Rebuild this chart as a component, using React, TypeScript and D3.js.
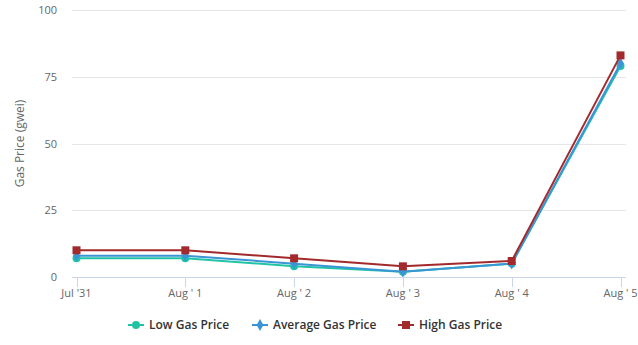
import * as d3 from "d3";
import React, { useEffect, useRef } from "react";

const days = ["Jul '31", "Aug ' 1", "Aug ' 2", "Aug ' 3", "Aug ' 4", "Aug ' 5"];
const lowPrice = [7, 7, 4, 2, 5, 79];
const averagePrice = [8, 8, 5, 2, 5, 80];
const highPrice = [10, 10, 7, 4, 6, 83];
const yTicks = [0, 25, 50, 75, 100];

const series = [
  { name: "Low Gas Price", data: lowPrice, color: "#20c4a4", symbol: d3.symbolCircle, size: 50 },
  { name: "Average Gas Price", data: averagePrice, color: "#3a95d6", symbol: d3.symbolDiamond, size: 40 },
  { name: "High Gas Price", data: highPrice, color: "#a32a2c", symbol: d3.symbolSquare, size: 64 },
];

const W = 638;
const H = 345;

export default function App() {
  const svgRef = useRef<SVGSVGElement>(null);

  useEffect(() => {
    const svg = d3.select(svgRef.current);
    svg.selectAll("*").remove();

    const x = d3.scaleLinear().domain([0, days.length - 1]).range([76.5, 620.5]);
    const y = d3.scaleLinear().domain([0, 100]).range([277, 10]);
    const font = "'Open Sans', sans-serif";

    // horizontal grid
    svg
      .append("g")
      .selectAll("line")
      .data(yTicks.slice(1))
      .join("line")
      .attr("x1", 72)
      .attr("x2", 626)
      .attr("y1", (d) => Math.round(y(d)) + 0.5)
      .attr("y2", (d) => Math.round(y(d)) + 0.5)
      .attr("stroke", "#e6e6e6");

    // y labels
    svg
      .append("g")
      .selectAll("text")
      .data(yTicks)
      .join("text")
      .attr("x", 57)
      .attr("y", (d) => y(d) + 4)
      .attr("text-anchor", "end")
      .attr("font-family", font)
      .attr("font-size", 11)
      .attr("fill", "#666")
      .text((d) => d);

    svg
      .append("text")
      .attr("transform", `translate(24,${y(50)}) rotate(-90)`)
      .attr("text-anchor", "middle")
      .attr("font-family", font)
      .attr("font-size", 12)
      .attr("fill", "#666")
      .text("Gas Price (gwei)");

    // x axis
    const xAxis = svg.append("g");
    xAxis
      .append("line")
      .attr("x1", 72)
      .attr("x2", 626)
      .attr("y1", 277.5)
      .attr("y2", 277.5)
      .attr("stroke", "#ccd6eb");
    xAxis
      .selectAll("line.tick")
      .data(days)
      .join("line")
      .attr("class", "tick")
      .attr("x1", (_, i) => Math.round(x(i)) + 0.5)
      .attr("x2", (_, i) => Math.round(x(i)) + 0.5)
      .attr("y1", 277)
      .attr("y2", 287)
      .attr("stroke", "#ccd6eb");
    xAxis
      .selectAll("text")
      .data(days)
      .join("text")
      .attr("x", (_, i) => x(i))
      .attr("y", 297)
      .attr("text-anchor", "middle")
      .attr("font-family", font)
      .attr("font-size", 11)
      .attr("fill", "#666")
      .text((d) => d);

    const lineGen = d3
      .line<number>()
      .x((_, i) => x(i))
      .y((d) => y(d));

    series.forEach((s) => {
      const g = svg.append("g");
      g.append("path")
        .datum(s.data)
        .attr("fill", "none")
        .attr("stroke", s.color)
        .attr("stroke-width", 2)
        .attr("d", lineGen);
      g.selectAll("path.marker")
        .data(s.data)
        .join("path")
        .attr("class", "marker")
        .attr("transform", (d, i) => `translate(${x(i)},${y(d)})`)
        .attr("d", d3.symbol(s.symbol, s.size)())
        .attr("fill", s.color);
    });

    // legend
    const legendX = [128, 252, 398];
    const legend = svg
      .append("g")
      .selectAll("g")
      .data(series)
      .join("g")
      .attr("transform", (_, i) => `translate(${legendX[i]},325)`);
    legend
      .append("line")
      .attr("x1", 0)
      .attr("x2", 16)
      .attr("stroke", (d) => d.color)
      .attr("stroke-width", 2);
    legend
      .append("path")
      .attr("transform", "translate(8,0)")
      .attr("d", (d) => d3.symbol(d.symbol, d.size)())
      .attr("fill", (d) => d.color);
    legend
      .append("text")
      .attr("x", 21)
      .attr("y", 4)
      .attr("font-family", font)
      .attr("font-size", 12)
      .attr("font-weight", 600)
      .attr("fill", "#333")
      .text((d) => d.name);
  }, []);

  return (
    <svg
      ref={svgRef}
      width={W}
      height={H}
      style={{ position: "absolute", left: 0, top: 0, background: "#fff" }}
    />
  );
}
